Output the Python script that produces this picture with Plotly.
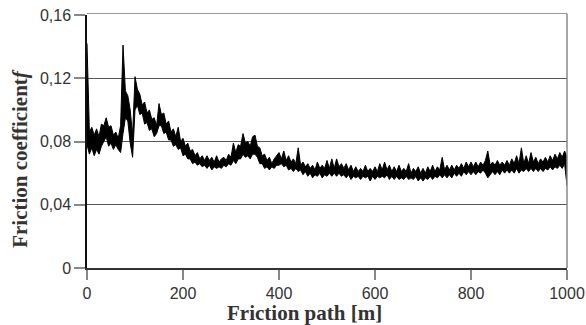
import plotly.graph_objects as go

# Friction path [m], sampled every 5 m
path_step = 5
# Friction coefficient f: upper and lower edge of the noisy trace
friction_upper = [
    0.142, 0.086, 0.089, 0.084, 0.088, 0.083, 0.091, 0.090, 0.095, 0.089,   # 0-45
    0.090, 0.084, 0.086, 0.082, 0.090, 0.141, 0.112, 0.109, 0.100, 0.084,   # 50-95
    0.121, 0.113, 0.110, 0.103, 0.105, 0.098, 0.100, 0.094, 0.095, 0.090,   # 100-145
    0.104, 0.097, 0.098, 0.091, 0.093, 0.086, 0.088, 0.083, 0.089, 0.080,   # 150-195
    0.082, 0.077, 0.079, 0.074, 0.075, 0.071, 0.073, 0.069, 0.071, 0.068,   # 200-245
    0.071, 0.068, 0.070, 0.067, 0.071, 0.067, 0.069, 0.070, 0.068, 0.072,   # 250-295
    0.070, 0.079, 0.073, 0.078, 0.077, 0.085, 0.079, 0.080, 0.077, 0.083,   # 300-345
    0.084, 0.077, 0.076, 0.071, 0.072, 0.068, 0.070, 0.066, 0.069, 0.071,   # 350-395
    0.073, 0.069, 0.074, 0.068, 0.071, 0.067, 0.069, 0.066, 0.076, 0.065,   # 400-445
    0.067, 0.064, 0.066, 0.063, 0.065, 0.062, 0.067, 0.063, 0.065, 0.063,   # 450-495
    0.068, 0.063, 0.069, 0.063, 0.069, 0.064, 0.066, 0.063, 0.066, 0.062,   # 500-545
    0.065, 0.061, 0.064, 0.061, 0.063, 0.061, 0.065, 0.061, 0.063, 0.061,   # 550-595
    0.064, 0.061, 0.066, 0.062, 0.067, 0.062, 0.065, 0.061, 0.064, 0.061,   # 600-645
    0.065, 0.061, 0.063, 0.061, 0.066, 0.060, 0.063, 0.061, 0.064, 0.060,   # 650-695
    0.063, 0.060, 0.064, 0.061, 0.065, 0.061, 0.064, 0.062, 0.070, 0.062,   # 700-745
    0.065, 0.062, 0.065, 0.062, 0.065, 0.063, 0.066, 0.063, 0.067, 0.064,   # 750-795
    0.067, 0.064, 0.067, 0.064, 0.067, 0.065, 0.068, 0.074, 0.065, 0.067,   # 800-845
    0.065, 0.068, 0.065, 0.067, 0.065, 0.068, 0.065, 0.069, 0.066, 0.071,   # 850-895
    0.066, 0.076, 0.066, 0.071, 0.066, 0.073, 0.067, 0.070, 0.066, 0.069,   # 900-945
    0.067, 0.070, 0.067, 0.071, 0.068, 0.072, 0.069, 0.073, 0.070, 0.074,   # 950-995
    0.070,                                                                   # 1000
]
friction_lower = [
    0.078, 0.072, 0.076, 0.071, 0.075, 0.072, 0.077, 0.080, 0.083, 0.077,   # 0-45
    0.079, 0.075, 0.078, 0.075, 0.073, 0.085, 0.095, 0.093, 0.079, 0.070,   # 50-95
    0.100, 0.103, 0.097, 0.098, 0.091, 0.092, 0.087, 0.088, 0.083, 0.085,   # 100-145
    0.090, 0.090, 0.085, 0.086, 0.081, 0.081, 0.077, 0.078, 0.075, 0.076,   # 150-195
    0.071, 0.072, 0.069, 0.069, 0.066, 0.067, 0.065, 0.066, 0.064, 0.065,   # 200-245
    0.063, 0.065, 0.062, 0.064, 0.063, 0.064, 0.063, 0.065, 0.064, 0.066,   # 250-295
    0.065, 0.068, 0.066, 0.069, 0.069, 0.072, 0.070, 0.071, 0.069, 0.072,   # 300-345
    0.072, 0.070, 0.066, 0.066, 0.063, 0.064, 0.062, 0.064, 0.063, 0.065,   # 350-395
    0.065, 0.066, 0.064, 0.065, 0.062, 0.063, 0.061, 0.063, 0.061, 0.062,   # 400-445
    0.059, 0.061, 0.058, 0.060, 0.057, 0.059, 0.058, 0.060, 0.057, 0.059,   # 450-495
    0.058, 0.060, 0.058, 0.060, 0.058, 0.060, 0.058, 0.059, 0.057, 0.059,   # 500-545
    0.056, 0.058, 0.057, 0.058, 0.056, 0.058, 0.057, 0.058, 0.055, 0.058,   # 550-595
    0.056, 0.058, 0.057, 0.058, 0.057, 0.059, 0.056, 0.058, 0.056, 0.058,   # 600-645
    0.056, 0.057, 0.056, 0.058, 0.056, 0.057, 0.056, 0.058, 0.055, 0.057,   # 650-695
    0.055, 0.057, 0.056, 0.058, 0.056, 0.058, 0.057, 0.059, 0.057, 0.059,   # 700-745
    0.057, 0.059, 0.057, 0.060, 0.058, 0.060, 0.058, 0.061, 0.059, 0.061,   # 750-795
    0.059, 0.061, 0.059, 0.061, 0.060, 0.062, 0.060, 0.057, 0.059, 0.061,   # 800-845
    0.059, 0.061, 0.059, 0.062, 0.060, 0.062, 0.060, 0.062, 0.060, 0.063,   # 850-895
    0.060, 0.062, 0.061, 0.063, 0.061, 0.063, 0.061, 0.063, 0.061, 0.063,   # 900-945
    0.061, 0.063, 0.062, 0.064, 0.062, 0.064, 0.063, 0.065, 0.063, 0.066,   # 950-995
    0.052,                                                                   # 1000
]
path = [i * path_step for i in range(len(friction_upper))]

x_ticks = [0, 200, 400, 600, 800, 1000]
y_ticks = [0, 0.04, 0.08, 0.12, 0.16]
y_tick_labels = ["0", "0,04", "0,08", "0,12", "0,16"]

fig = go.Figure()
fig.add_trace(go.Scatter(x=path, y=friction_lower, mode="lines",
                         line=dict(color="black", width=1), showlegend=False))
fig.add_trace(go.Scatter(x=path, y=friction_upper, mode="lines", fill="tonexty",
                         fillcolor="black",
                         line=dict(color="black", width=1), showlegend=False))

tick_font = dict(family="Liberation Sans, Arial, sans-serif", size=16, color="#333333")
title_font = dict(family="Liberation Serif, Times New Roman, serif", size=21, color="#333333")

fig.update_layout(
    width=586, height=325,
    margin=dict(l=87, r=19, t=15, b=57, autoexpand=False),
    paper_bgcolor="white", plot_bgcolor="white",
    xaxis=dict(range=[0, 1000], tickvals=x_ticks, ticks="outside", ticklen=10,
               tickcolor="#888888", tickwidth=1.5, showgrid=False, zeroline=False,
               automargin=False,
               showline=True, linecolor="#333333", linewidth=1.5, tickfont=tick_font),
    yaxis=dict(range=[0, 0.16], tickvals=y_ticks, ticktext=y_tick_labels,
               ticks="outside", ticklen=11, tickcolor="#888888", tickwidth=1.5,
               showgrid=True, gridcolor="#555555", gridwidth=1, zeroline=False,
               automargin=False,
               showline=True, linecolor="#111111", linewidth=1.5, tickfont=tick_font),
    shapes=[
        dict(type="line", xref="paper", yref="paper", x0=0, x1=1, y0=1.006, y1=1.006,
             line=dict(color="#999999", width=1)),
        dict(type="line", xref="paper", yref="paper", x0=1, x1=1, y0=0, y1=1.006,
             line=dict(color="#888888", width=1.5)),
    ],
    annotations=[
        dict(text="<b>Friction path [m]</b>", xref="paper", yref="paper",
             x=0.453, y=-0.178, showarrow=False, font=title_font,
             xanchor="center", yanchor="middle"),
        dict(text="<b>Friction coefficient<i>f</i></b>", xref="paper", yref="paper",
             x=(20 - 87) / 479, y=0.435, showarrow=False, font=title_font,
             textangle=-90, xanchor="center", yanchor="middle"),
    ],
)

fig.write_html("out.html", config={"displayModeBar": False},
               post_script="document.body.style.margin='0';document.body.style.overflow='hidden';")
